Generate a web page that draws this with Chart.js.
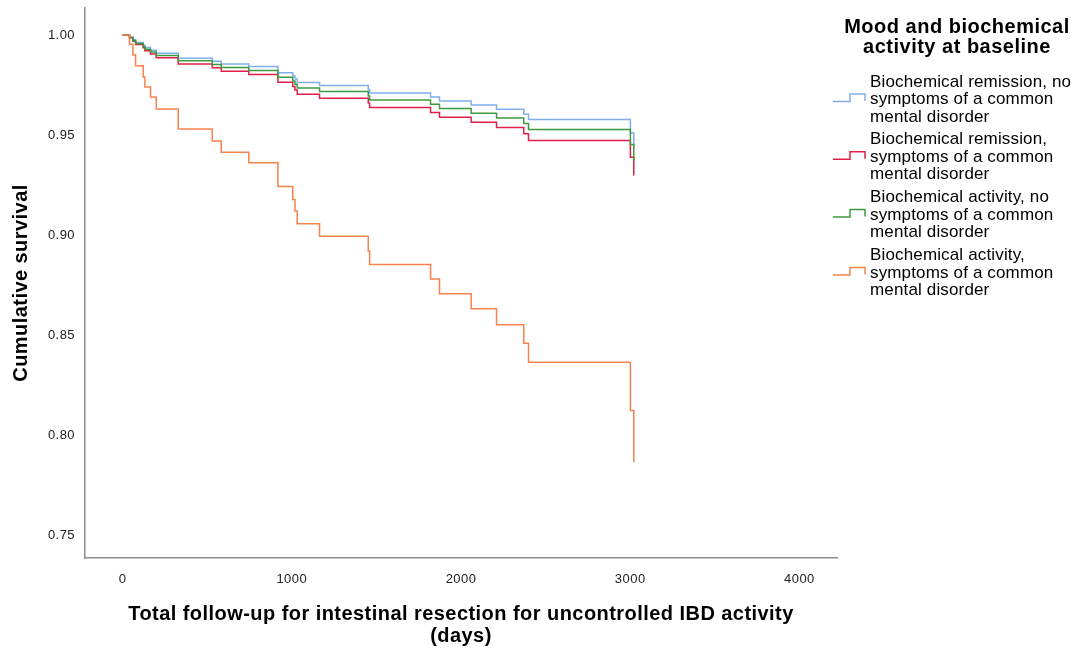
<!DOCTYPE html>
<html>
<head>
<meta charset="utf-8">
<script src="https://cdn.jsdelivr.net/npm/chart.js@4.4.1/dist/chart.umd.min.js"></script>
<style>
  html, body { margin: 0; padding: 0; background: #fff; }
</style>
</head>
<body>
<canvas id="km" width="1084" height="651"></canvas>
<script>
// follow-up days at which the curves step down
var times = [0, 41, 61, 77, 122, 132, 165, 199, 329, 530, 583, 746, 918, 1006, 1019, 1032, 1164, 1452, 1460, 1820, 1873, 2060, 2210, 2371, 2399, 3001, 3021];

// cumulative survival per group
var remissionNoCmd = [1, 0.9989, 0.9976, 0.9963, 0.9949, 0.9937, 0.9924, 0.9909, 0.9884, 0.9869, 0.9855, 0.9842, 0.9811, 0.9795, 0.9780, 0.9763, 0.9747, 0.9727, 0.9710, 0.9690, 0.9670, 0.9650, 0.9629, 0.9604, 0.9577, 0.9510, 0.9440];
var remissionCmd = [1, 0.9986, 0.9969, 0.9953, 0.9936, 0.9921, 0.9905, 0.9886, 0.9855, 0.9836, 0.9819, 0.9802, 0.9764, 0.9743, 0.9725, 0.9704, 0.9684, 0.9660, 0.9638, 0.9613, 0.9589, 0.9564, 0.9537, 0.9506, 0.9473, 0.9389, 0.9298];
var activityNoCmd = [1, 0.9988, 0.9973, 0.9958, 0.9943, 0.9929, 0.9915, 0.9898, 0.9871, 0.9853, 0.9838, 0.9823, 0.9789, 0.9770, 0.9754, 0.9735, 0.9717, 0.9695, 0.9675, 0.9654, 0.9632, 0.9609, 0.9585, 0.9557, 0.9528, 0.9452, 0.9370];
var activityCmd = [1, 0.9954, 0.9900, 0.9846, 0.9790, 0.9740, 0.9690, 0.9630, 0.9530, 0.9470, 0.9414, 0.9361, 0.9243, 0.9178, 0.9120, 0.9056, 0.8994, 0.8920, 0.8853, 0.8780, 0.8706, 0.8631, 0.8551, 0.8459, 0.8364, 0.8123, 0.7864];

var groupLabels = [
    ['Biochemical remission, no', 'symptoms of a common', 'mental disorder'],
    ['Biochemical remission,', 'symptoms of a common', 'mental disorder'],
    ['Biochemical activity, no', 'symptoms of a common', 'mental disorder'],
    ['Biochemical activity,', 'symptoms of a common', 'mental disorder']
];
var groupColors = ['#7fb0ea', '#e0204a', '#3f9a3f', '#f7824d'];
var legendTitle = ['Mood and biochemical', 'activity at baseline'];

var xTicks = [0, 1000, 2000, 3000, 4000];
var yTicks = [0.75, 0.80, 0.85, 0.90, 0.95, 1.00];

var FONT = '"Liberation Sans", Arial, sans-serif';

function toPoints(values) {
    return times.map(function (t, i) {
        return { x: t, y: values[i] };
    });
}

// SPSS text is a little wider than Arial, so loosen the spacing a bit
var spacing = {
    id: 'spacing',
    beforeDraw: function (chart) {
        chart.ctx.letterSpacing = '0.45px';
    }
};

// legend on the right with the small step icons
var stepLegend = {
    id: 'stepLegend',
    afterDraw: function (chart) {
        var ctx = chart.ctx;
        ctx.save();
        ctx.fillStyle = '#000';
        ctx.textBaseline = 'middle';
        ctx.textAlign = 'center';
        ctx.letterSpacing = '0.5px';
        ctx.font = 'bold 20px ' + FONT;
        legendTitle.forEach(function (line, i) {
            ctx.fillText(line, 957, 27 + i * 20.5);
        });

        ctx.textAlign = 'left';
        ctx.letterSpacing = '0.15px';
        ctx.font = '17px ' + FONT;
        chart.data.datasets.forEach(function (ds, i) {
            var top = 82 + i * 57.8;
            ds.lines.forEach(function (line, j) {
                ctx.fillText(line, 870, top + j * 17.5);
            });
            var mid = top + 17.5;
            ctx.strokeStyle = ds.borderColor;
            ctx.lineWidth = 1.5;
            ctx.beginPath();
            ctx.moveTo(833, mid + 2);
            ctx.lineTo(850, mid + 2);
            ctx.lineTo(850, mid - 5.5);
            ctx.lineTo(865, mid - 5.5);
            ctx.lineTo(865, mid + 1.5);
            ctx.stroke();
        });
        ctx.restore();
    }
};

var seriesValues = [remissionNoCmd, remissionCmd, activityNoCmd, activityCmd];
var drawOrder = [3, 2, 1, 0];

var datasets = seriesValues.map(function (values, i) {
    return {
        label: groupLabels[i].join(' '),
        lines: groupLabels[i],
        data: toPoints(values),
        borderColor: groupColors[i],
        backgroundColor: groupColors[i],
        borderWidth: 1.5,
        stepped: true,
        pointRadius: 0,
        fill: false,
        order: drawOrder[i]
    };
});

new Chart(document.getElementById('km'), {
    type: 'line',
    data: { datasets: datasets },
    options: {
        responsive: false,
        animation: false,
        layout: { padding: { left: 10, top: 8, right: 247, bottom: 4 } },
        plugins: {
            legend: { display: false },
            tooltip: { enabled: false }
        },
        scales: {
            x: {
                type: 'linear',
                min: -222,
                max: 4222,
                grid: { display: false, drawTicks: false },
                border: { display: true, color: '#8c8c8c', width: 1.5 },
                afterBuildTicks: function (axis) {
                    axis.ticks = xTicks.map(function (v) { return { value: v }; });
                },
                afterFit: function (axis) {
                    axis.height = 89;
                    axis.paddingLeft = 0;
                    axis.paddingRight = 0;
                },
                ticks: {
                    padding: 14,
                    color: '#222',
                    font: { family: FONT, size: 13 },
                    callback: function (v) { return String(v); }
                },
                title: {
                    display: true,
                    text: ['Total follow-up for intestinal resection for uncontrolled IBD activity', '(days)'],
                    color: '#000',
                    font: { family: FONT, size: 20, weight: 'bold', lineHeight: 1.1 },
                    padding: 0
                }
            },
            y: {
                type: 'linear',
                min: 0.7385,
                max: 1.0135,
                grid: { display: false, drawTicks: false },
                border: { display: true, color: '#8c8c8c', width: 1.5 },
                afterBuildTicks: function (axis) {
                    axis.ticks = yTicks.map(function (v) { return { value: v }; });
                },
                afterFit: function (axis) {
                    axis.width = 75;
                    axis.paddingTop = 0;
                    axis.paddingBottom = 0;
                },
                ticks: {
                    padding: 10,
                    color: '#222',
                    font: { family: FONT, size: 13 },
                    callback: function (v) { return v.toFixed(2); }
                },
                title: {
                    display: true,
                    text: 'Cumulative survival',
                    color: '#000',
                    font: { family: FONT, size: 20, weight: 'bold', lineHeight: 1.1 },
                    padding: 0
                }
            }
        }
    },
    plugins: [spacing, stepLegend]
});
</script>
</body>
</html>
